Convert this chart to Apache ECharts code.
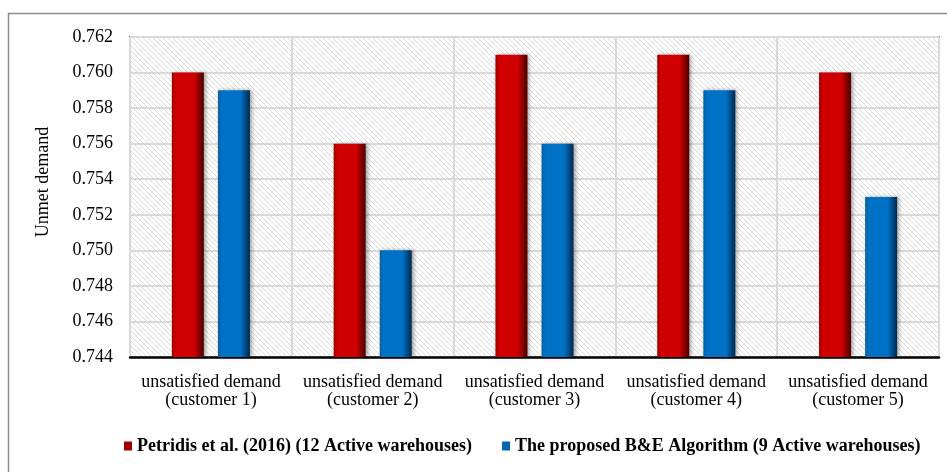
<!DOCTYPE html>
<html>
<head>
<meta charset="utf-8">
<script src="https://cdn.jsdelivr.net/npm/echarts@6/dist/echarts.min.js"></script>
<style>
  html, body { margin: 0; padding: 0; background: #fff; }
  #chart { width: 947px; height: 472px; }
</style>
</head>
<body>
<div id="chart"></div>
<script>
var categories = [
    'unsatisfied demand\n(customer 1)',
    'unsatisfied demand\n(customer 2)',
    'unsatisfied demand\n(customer 3)',
    'unsatisfied demand\n(customer 4)',
    'unsatisfied demand\n(customer 5)'
];
var petridis = [0.760, 0.756, 0.761, 0.761, 0.760];
var proposed = [0.759, 0.750, 0.756, 0.759, 0.753];
var seriesNames = [
    'Petridis et al. (2016) (12 Active warehouses)',
    'The proposed B&E Algorithm (9 Active warehouses)'
];

// diagonal hatch for the plot background
function hatch() {
    var c = document.createElement('canvas');
    c.width = 5;
    c.height = 5;
    var ctx = c.getContext('2d');
    ctx.fillStyle = '#ffffff';
    ctx.fillRect(0, 0, 5, 5);
    ctx.strokeStyle = '#dadada';
    ctx.lineWidth = 1;
    ctx.beginPath();
    ctx.moveTo(-1, -1); ctx.lineTo(6, 6);
    ctx.moveTo(-1, 4); ctx.lineTo(1, 6);
    ctx.moveTo(4, -1); ctx.lineTo(6, 1);
    ctx.stroke();
    return c;
}

function barColor(edge, mid, dark) {
    return new echarts.graphic.LinearGradient(0, 0, 1, 0, [
        { offset: 0, color: edge },
        { offset: 0.12, color: mid },
        { offset: 0.7, color: mid },
        { offset: 1, color: dark }
    ]);
}

var myChart = echarts.init(document.getElementById('chart'));
var serif = '"Liberation Serif", "Times New Roman", serif';

var option = {
    animation: false,
    textStyle: { fontFamily: serif },
    graphic: [{
        type: 'rect',
        shape: { x: 8.5, y: 13.5, width: 960, height: 500 },
        style: { fill: 'none', stroke: '#8c8c8c', lineWidth: 1.5 },
        z: -10
    }],
    grid: {
        left: 130,
        right: 8,
        top: 37,
        bottom: 115,
        show: true,
        backgroundColor: { image: hatch(), repeat: 'repeat' },
        borderColor: '#000',
        borderWidth: 1.5
    },
    legend: {
        left: 119,
        top: 432,
        itemWidth: 8,
        itemHeight: 9,
        itemGap: 30,
        icon: 'rect',
        textStyle: { fontFamily: serif, fontSize: 18, fontWeight: 'bold', color: '#000' },
        data: [
            { name: seriesNames[0], itemStyle: { color: '#a00000' } },
            { name: seriesNames[1], itemStyle: { color: '#0066b0' } }
        ]
    },
    xAxis: {
        type: 'category',
        data: categories,
        axisLine: { lineStyle: { color: '#000', width: 2.5 } },
        axisTick: { show: false },
        axisLabel: {
            interval: 0,
            color: '#000',
            fontSize: 18,
            lineHeight: 18,
            margin: 16,
            fontFamily: serif
        },
        splitLine: { show: true, interval: 0, lineStyle: { color: '#d9d9d9', width: 2 } }
    },
    yAxis: {
        type: 'value',
        min: 0.744,
        max: 0.762,
        interval: 0.002,
        name: 'Unmet demand',
        nameLocation: 'middle',
        nameGap: 78,
        nameTextStyle: { color: '#000', fontSize: 18, fontFamily: serif, padding: [0, 0, 0, 30] },
        axisLine: { show: false },
        axisTick: { show: false },
        axisLabel: {
            color: '#000',
            fontSize: 18,
            margin: 17,
            fontFamily: serif,
            formatter: function (v) { return v.toFixed(3); }
        },
        splitLine: { lineStyle: { color: '#d9d9d9', width: 2 } }
    },
    series: [
        {
            name: seriesNames[0],
            type: 'bar',
            data: petridis,
            barWidth: 32,
            barGap: '44%',
            itemStyle: {
                color: barColor('#9a0000', '#d00000', '#4a0000'),
                shadowColor: 'rgba(0,0,0,0.35)',
                shadowBlur: 4,
                shadowOffsetX: 2
            }
        },
        {
            name: seriesNames[1],
            type: 'bar',
            data: proposed,
            barWidth: 32,
            itemStyle: {
                color: barColor('#0a5e9e', '#0072c6', '#00294f'),
                shadowColor: 'rgba(0,0,0,0.35)',
                shadowBlur: 4,
                shadowOffsetX: 2
            }
        }
    ]
};

myChart.setOption(option);
</script>
</body>
</html>
